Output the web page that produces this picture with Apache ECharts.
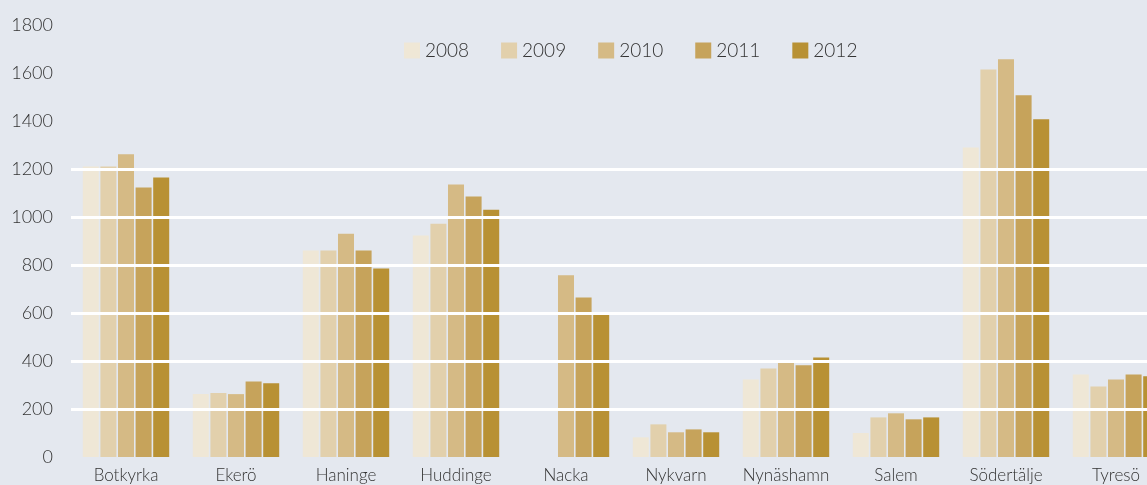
<!DOCTYPE html>
<html>
<head>
<meta charset="utf-8">
<script src="https://cdn.jsdelivr.net/npm/echarts@6/dist/echarts.min.js"></script>
<style>
html,body{margin:0;padding:0;background:#e4e8ef;}
#chart{width:1147px;height:485px;}
</style>
</head>
<body>
<div id="chart"></div>
<script>
const categories = ['Botkyrka','Ekerö','Haninge','Huddinge','Nacka','Nykvarn','Nynäshamn','Salem','Södertälje','Tyresö'];
const years = ['2008','2009','2010','2011','2012'];
const v2008 = [1210, 262, 860, 923, null, 82, 323, 100, 1290, 344];
const v2009 = [1210, 267, 860, 972, null, 136, 369, 165, 1615, 294];
const v2010 = [1261, 262, 930, 1135, 757, 103, 394, 182, 1657, 323];
const v2011 = [1123, 315, 860, 1085, 665, 115, 382, 157, 1507, 344];
const v2012 = [1165, 307, 785, 1030, 594, 103, 415, 165, 1407, 336];
const yTicks = [0, 200, 400, 600, 800, 1000, 1200, 1400, 1600, 1800];
const gridLineValues = [200, 400, 600, 800, 1000, 1200];

const colors = ['#efe7d6', '#e2d0ac', '#d5ba85', '#c6a35b', '#b89134'];
const seriesData = [v2008, v2009, v2010, v2011, v2012];
const fontFamily = 'Lato, "Noto Sans", sans-serif';

const series = years.map((y, i) => {
  const s = {
    name: y,
    type: 'bar',
    data: seriesData[i],
    barWidth: 16,
    barGap: '10%',
    itemStyle: { color: colors[i] },
    emphasis: { disabled: true }
  };
  if (i === years.length - 1) {
    s.markLine = {
      silent: true,
      symbol: 'none',
      z: 10,
      label: { show: false },
      lineStyle: { color: '#ffffff', width: 3, type: 'solid' },
      data: gridLineValues.map(v => ({ yAxis: v }))
    };
  }
  return s;
});

const chart = echarts.init(document.getElementById('chart'));
chart.setOption({
  backgroundColor: '#e4e8ef',
  animation: false,
  color: colors,
  legend: {
    left: 399,
    top: 36,
    icon: 'rect',
    itemWidth: 16,
    itemHeight: 16,
    itemGap: 32,
    textStyle: { fontFamily: fontFamily, fontSize: 19, color: '#333', fontWeight: 300 },
    data: years
  },
  grid: { left: 71, right: -24, top: 25, bottom: 28, outerBoundsMode: 'none', containLabel: false },
  xAxis: {
    type: 'category',
    data: categories,
    axisLine: { show: false },
    axisTick: { show: false },
    axisLabel: { fontFamily: fontFamily, fontSize: 17, color: '#333', margin: 10, fontWeight: 300, interval: 0 }
  },
  yAxis: {
    type: 'value',
    min: yTicks[0],
    max: yTicks[yTicks.length - 1],
    interval: 200,
    axisLine: { show: false },
    axisTick: { show: false },
    splitLine: { show: false },
    axisLabel: { fontFamily: fontFamily, fontSize: 18, color: '#333', margin: 18, fontWeight: 300, formatter: v => String(v) }
  },
  series: series
});
</script>
</body>
</html>
